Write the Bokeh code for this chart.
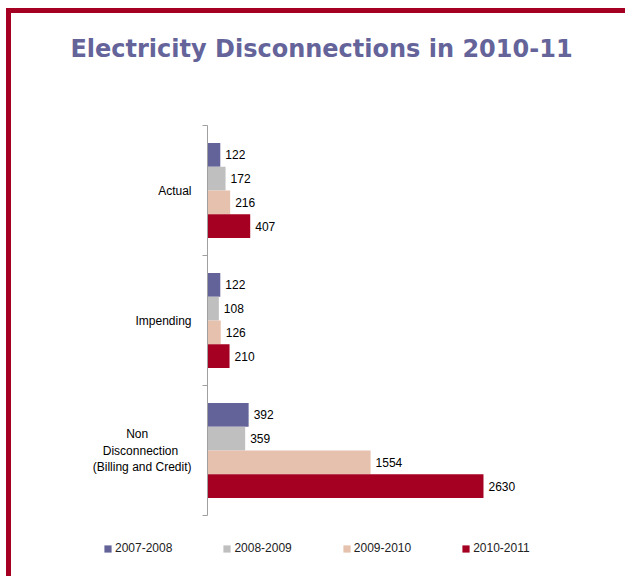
from bokeh.plotting import figure
from bokeh.layouts import column
from bokeh.models import (ColumnDataSource, Range1d, FixedTicker, Legend, LegendItem,
                          LabelSet, Label, InlineStyleSheet)
from bokeh.core.properties import value
from bokeh.embed import file_html
from bokeh.resources import INLINE

NB = "\u00a0"
categories = ["Actual", "Impending",
              "Non" + NB * 13 + "\nDisconnection" + NB * 4 + "\n(Billing and Credit)"]
series = ["2007-2008", "2008-2009", "2009-2010", "2010-2011"]
v_2007_2008 = [122, 122, 392]
v_2008_2009 = [172, 108, 359]
v_2009_2010 = [216, 126, 1554]
v_2010_2011 = [407, 210, 2630]
values = [v_2007_2008, v_2008_2009, v_2009_2010, v_2010_2011]
colors = ["#636399", "#BFBFBF", "#E6C1AD", "#A50021"]
title_text = "Electricity Disconnections in 2010-11"

n = len(categories)
band = 0.73
bar_h = band / len(series)

border_css = InlineStyleSheet(css="""
:host { position: relative; }
:host::after {
  content: ''; position: absolute; left: 6px; top: 8px; right: 0; bottom: 0;
  border-top: 5px solid #A50021; border-left: 5px solid #A50021;
  pointer-events: none; z-index: 100;
}
""")


def strip(h):
    f = figure(width=625, height=h, output_backend="svg", toolbar_location=None,
               x_range=Range1d(0, 1), y_range=Range1d(0, 1),
               min_border_left=0, min_border_right=0, min_border_top=0,
               min_border_bottom=0)
    f.frame_align = False
    f.axis.visible = False
    f.grid.visible = False
    f.outline_line_color = None
    f.border_fill_color = "white"
    return f


# title strip
pt = strip(123)
pt.add_layout(Label(x=321, y=75, x_units="screen", y_units="screen", text=title_text,
                    text_align="center", text_baseline="middle",
                    text_font="DejaVu Sans", text_font_style="bold",
                    text_font_size="24px", text_color="#64649A"))

# chart
p = figure(width=625, height=395, output_backend="svg", toolbar_location=None,
           x_range=Range1d(0, 3745), y_range=Range1d(0, n),
           min_border_left=207, min_border_right=25, min_border_top=2,
           min_border_bottom=3)
p.frame_align = False
p.outline_line_color = None
p.background_fill_color = "white"
p.border_fill_color = "white"
p.xgrid.visible = False
p.ygrid.visible = False
p.xaxis.visible = False

centers = [n - i - 0.5 for i in range(n)]
p.yaxis.ticker = FixedTicker(ticks=centers, minor_ticks=list(range(n + 1)))
p.yaxis.major_label_overrides = {c: categories[i] for i, c in enumerate(centers)}
p.yaxis.major_tick_line_color = None
p.yaxis.minor_tick_in = 0
p.yaxis.minor_tick_out = 5
p.yaxis.minor_tick_line_color = "#A0A0A0"
p.yaxis.axis_line_color = "#A0A0A0"
p.yaxis.major_label_standoff = 10
p.yaxis.major_label_text_font = "Liberation Sans"
p.yaxis.major_label_text_font_size = "12px"
p.yaxis.major_label_text_color = "#000000"

# legend strip
pl = strip(58)

nan = float("nan")
items = []
for j, (name, vals, col) in enumerate(zip(series, values, colors)):
    off = band / 2 - bar_h * (j + 0.5)
    ys = [c + off for c in centers]
    src = ColumnDataSource(dict(y=ys, v=vals, t=[str(v) for v in vals]))
    p.hbar(y="y", right="v", left=0, height=bar_h, source=src,
           fill_color=col, line_color=None)
    p.add_layout(LabelSet(x="v", y="y", text="t", source=src, x_offset=5,
                          text_align="left", text_baseline="middle",
                          text_font=value("Liberation Sans"), text_font_size=value("12px"),
                          text_color="#000000"))
    lr = pl.hbar(y=[nan], right=[nan], left=0, height=0.1, fill_color=col, line_color=None)
    items.append(LegendItem(label=name, renderers=[lr]))

legend = Legend(items=items, orientation="horizontal", location=(103, 21),
                glyph_width=9, glyph_height=9, label_standoff=3, spacing=50,
                label_text_font="Liberation Sans", label_text_font_size="12px",
                label_text_color="#222222", border_line_color=None,
                background_fill_alpha=0, padding=0, margin=0)
pl.add_layout(legend, "center")

layout = column(pt, p, pl, spacing=0, stylesheets=[border_css])

open("out.html", "w").write(file_html(layout, INLINE))
